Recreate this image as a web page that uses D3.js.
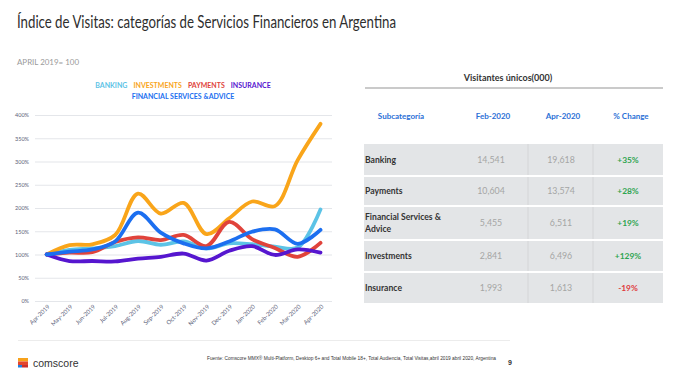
<!DOCTYPE html>
<html><head><meta charset="utf-8">
<script src="https://cdn.jsdelivr.net/npm/d3@7"></script>
<style>
html,body{margin:0;padding:0;background:#fff;}
svg{display:block;font-family:Lato,"Open Sans",sans-serif;}
</style></head>
<body>
<svg id="c" width="673" height="376"></svg>
<script>
// ---- data ----
const months = ["Apr-2019","May-2019","Jun-2019","Jul-2019","Aug-2019","Sep-2019","Oct-2019","Nov-2019","Dec-2019","Jan-2020","Feb-2020","Mar-2020","Apr-2020"];
const banking     = [100,110,113,118,129,121,128,113,124,122,117,115,197];
const investments = [100,120,122,142,231,188,211,144,178,214,204,303,381];
const payments    = [100,104,105,127,137,131,142,118,170,133,114,95,125];
const insurance   = [100,86,86,85,91,95,102,87,108,118,99,111,104];
const fsa         = [100,106,111,128,190,147,124,113,128,149,154,123,153];
const seriesNames = ["BANKING","INVESTMENTS","PAYMENTS","INSURANCE","FINANCIAL SERVICES &ADVICE"];
const seriesColors = ["#5cc3e6","#f9a51a","#e0433b","#5616cf","#1c6ff0"];
const yTicks = [0,50,100,150,200,250,300,350,400];

const subcats = ["Banking","Payments","Financial Services & Advice","Investments","Insurance"];
const feb2020 = [14541,10604,5455,2841,1993];
const apr2020 = [19618,13574,6511,6496,1613];
const pctChange = [35,28,19,129,-19];
const tableCols = ["Subcategoría","Feb-2020","Apr-2020","% Change"];

const svg = d3.select("#c");

// ---- titles ----
svg.append("text").attr("x",17).attr("y",28).attr("font-size",16.5).attr("fill","#2e2e2e")
  .attr("textLength",379).attr("lengthAdjust","spacingAndGlyphs")
  .text("Índice de Visitas: categorías de Servicios Financieros en Argentina");
svg.append("text").attr("x",17).attr("y",65).attr("font-size",8).attr("fill","#9a9a9a")
  .attr("textLength",62).attr("lengthAdjust","spacingAndGlyphs")
  .text("APRIL 2019= 100");

// ---- chart ----
const x = d3.scalePoint().domain(months).range([46.7,320.5]);
const y = d3.scaleLinear().domain([0,400]).range([301,115]);

const yAxis = svg.append("g").attr("transform","translate(35,0)")
  .call(d3.axisLeft(y).tickValues(yTicks).tickFormat(d=>d+"%").tickSize(-297).tickPadding(6));
yAxis.select(".domain").remove();
yAxis.selectAll(".tick line").attr("stroke","#e4e6ea").attr("stroke-width",1.2);
yAxis.selectAll(".tick text").attr("fill","#5b6078").attr("font-size",5.5).attr("font-family","Lato,sans-serif");

const xAxis = svg.append("g").attr("transform","translate(0,301)")
  .call(d3.axisBottom(x).tickSize(0).tickPadding(0));
xAxis.select(".domain").remove();
xAxis.selectAll(".tick text").attr("fill","#5b6078").attr("font-size",6).attr("font-family","Lato,sans-serif")
  .attr("text-anchor","end").attr("dy",0).attr("transform","translate(3,6) rotate(-45)");

const allSeries = [banking,investments,payments,insurance,fsa];
const line = d3.line().x((d,i)=>x(months[i])).y(d=>y(d)).curve(d3.curveCatmullRom.alpha(0.5));
svg.append("g").selectAll("path").data(allSeries).join("path")
  .attr("d",line).attr("fill","none").attr("stroke",(d,i)=>seriesColors[i])
  .attr("stroke-width",3.8).attr("stroke-linecap","round").attr("stroke-linejoin","round");

// legend
const leg1 = svg.append("text").attr("x",183).attr("y",88).attr("text-anchor","middle")
  .attr("font-size",7).attr("font-weight","bold");
[0,1,2,3].forEach(i=>{
  leg1.append("tspan").attr("fill",seriesColors[i]).attr("dx",i>0?6:0).text(seriesNames[i]);
});
svg.append("text").attr("x",183).attr("y",98.5).attr("text-anchor","middle")
  .attr("font-size",7).attr("font-weight","bold").attr("fill",seriesColors[4]).text(seriesNames[4]);

// separator line under chart
svg.append("line").attr("x1",18).attr("x2",510).attr("y1",340.5).attr("y2",340.5)
  .attr("stroke","#ececec").attr("stroke-width",1);

// ---- table ----
svg.append("text").attr("x",508).attr("y",81).attr("text-anchor","middle")
  .attr("font-size",9).attr("font-weight","bold").attr("fill","#333").text("Visitantes únicos(000)");
svg.append("line").attr("x1",365).attr("x2",663).attr("y1",88).attr("y2",88)
  .attr("stroke","#b9b9b9").attr("stroke-width",1.3);

const colX = [401,493,563,631];
svg.append("g").selectAll("text").data(tableCols).join("text")
  .attr("x",(d,i)=>colX[i]).attr("y",119).attr("text-anchor","middle")
  .attr("font-size",8).attr("font-weight","bold").attr("fill","#2a6fd6").text(d=>d);

const rowH = [32,30,34,32,31];
const rowY = [144]; rowH.forEach((h,i)=>rowY.push(rowY[i]+h));
const tbl = svg.append("g");
tbl.append("rect").attr("x",364).attr("y",144).attr("width",299).attr("height",rowY[5]-144).attr("fill","#e3e5e7");
[528,593].forEach(vx=>tbl.append("line").attr("x1",vx).attr("x2",vx).attr("y1",144).attr("y2",rowY[5])
  .attr("stroke","#d0d2d4").attr("stroke-width",0.8));
rowY.slice(1,5).forEach(ry=>tbl.append("line").attr("x1",364).attr("x2",663).attr("y1",ry).attr("y2",ry)
  .attr("stroke","#fff").attr("stroke-width",2));

const fmt = d3.format(",");
subcats.forEach((s,i)=>{
  const cy = (rowY[i]+rowY[i+1])/2;
  const lab = tbl.append("text").attr("x",365).attr("font-size",8.6).attr("font-weight","bold").attr("fill","#333");
  if(s==="Financial Services & Advice"){
    lab.attr("y",cy-3);
    lab.append("tspan").attr("x",365).text("Financial Services &");
    lab.append("tspan").attr("x",365).attr("dy",11.5).text("Advice");
  } else {
    lab.attr("y",cy+3).text(s);
  }
  tbl.append("text").attr("x",colX[1]-2).attr("y",cy+3).attr("text-anchor","middle").attr("font-size",8.8)
    .attr("fill","#a5a5a5").text(fmt(feb2020[i]));
  tbl.append("text").attr("x",colX[2]-2).attr("y",cy+3).attr("text-anchor","middle").attr("font-size",8.8)
    .attr("fill","#a5a5a5").text(fmt(apr2020[i]));
  tbl.append("text").attr("x",colX[3]-3).attr("y",cy+3).attr("text-anchor","middle").attr("font-size",8.4)
    .attr("font-weight","bold").attr("fill",pctChange[i]>=0?"#2ea44f":"#e0393b")
    .text((pctChange[i]>=0?"+":"")+pctChange[i]+"%");
});

// ---- footer ----
const logo = svg.append("g").attr("transform","translate(18,358)");
logo.append("rect").attr("x",0).attr("y",0).attr("width",10).attr("height",3.5).attr("fill","#f7a21b");
logo.append("rect").attr("x",0).attr("y",3.5).attr("width",10).attr("height",3.5).attr("fill","#e4452e");
logo.append("rect").attr("x",0).attr("y",7).attr("width",4).attr("height",2.5).attr("fill","#1e7fe0");
logo.append("rect").attr("x",4).attr("y",7).attr("width",6).attr("height",2.5).attr("fill","#c9302c");
svg.append("text").attr("x",33).attr("y",366.5).attr("font-size",10.5).attr("fill","#333")
  .attr("font-family","'Liberation Sans',Arial,sans-serif").text("comscore");
svg.append("text").attr("x",207).attr("y",360).attr("font-size",4.6).attr("fill","#333")
  .attr("font-family","'Liberation Sans',Arial,sans-serif")
  .attr("textLength",289).attr("lengthAdjust","spacingAndGlyphs")
  .text("Fuente: Comscore MMX® Multi-Platform, Desktop 6+ and Total Mobile 18+, Total Audiencia, Total Visitas,abril 2019 abril 2020, Argentina");
svg.append("text").attr("x",508).attr("y",365).attr("font-size",7).attr("font-weight","bold").attr("fill","#333")
  .attr("font-family","'Liberation Sans',Arial,sans-serif").text("9");
</script>
</body></html>
